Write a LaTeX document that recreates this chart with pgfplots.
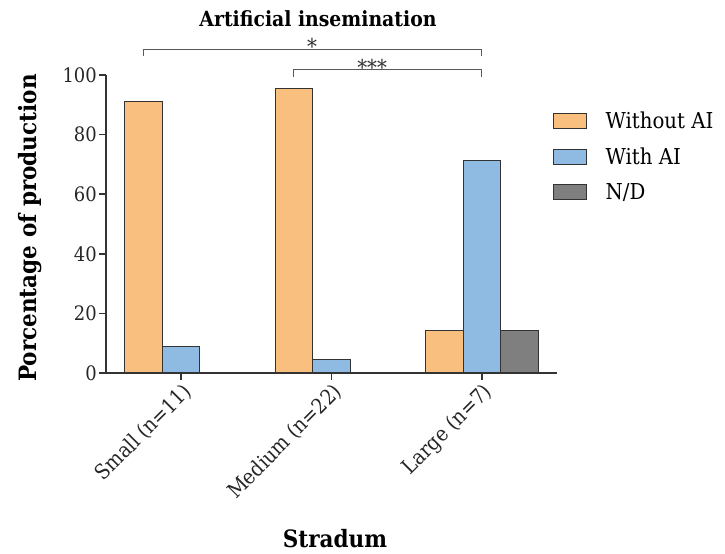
\documentclass[border=0pt]{standalone}
\usepackage{pgfplots}
\pgfplotsset{compat=1.18}
\usepackage{fontspec}
\setmainfont{DejaVu Serif Condensed}
\definecolor{cOr}{HTML}{F9BF7E}
\definecolor{cBl}{HTML}{8FBAE2}
\definecolor{cGr}{HTML}{7F7F7F}
\definecolor{cEd}{HTML}{333333}
\begin{document}
\begin{tikzpicture}[x=1bp,y=1bp]
\path[use as bounding box] (0,0) rectangle (725,554);
\begin{axis}[
  at={(106bp,181bp)}, anchor=south west,
  scale only axis, width=451bp, height=298bp,
  ybar=0pt, bar width=37.5bp,
  xmin=-0.5, xmax=2.5, ymin=0, ymax=100,
  axis x line*=bottom, axis y line*=left,
  axis line style={line width=2bp, color=cEd, -},
  xtick={0,1,2}, xticklabels={Small\hspace{5bp}(n=11), Medium (n=22), Large\hspace{6bp}(n=7)},
  ytick={0,20,40,60,80,100},
  tick style={line width=1.6bp, color=cEd},
  major tick length=7bp,
  tick align=outside,
  /pgf/number format/assume math mode=true,
  ticklabel style={font=\fontsize{20}{22}\selectfont, color=black!85},
  yticklabel style={inner sep=2bp},
  xticklabel style={rotate=45, anchor=north east, inner sep=1bp, font=\fontsize{21}{22}\selectfont},
  clip=false,
  legend style={at={(0.99,0.885)}, anchor=north west, draw=none, fill=none,
    font=\fontsize{22}{24}\selectfont, row sep=14bp, inner sep=0pt,
    /tikz/every even column/.append style={column sep=0pt}},
  legend cell align=left,
  every axis plot post/.append style={legend image code/.code={\draw[##1, draw=cEd, line width=1bp] (0bp,-7.5bp) rectangle (33bp,7.5bp);}},
]
\addplot[fill=cOr, draw=cEd, line width=1.1bp] coordinates {(0,91) (1,95.5) (2,14.3)};
\addplot[fill=cBl, draw=cEd, line width=1.1bp] coordinates {(0,9) (1,4.5) (2,71.4)};
\addplot[fill=cGr, draw=cEd, line width=1.1bp] coordinates {(2,14.3)};
\legend{\hspace{17bp}Without AI, \hspace{17bp}With AI, \hspace{17bp}N/D}
\draw[line width=1bp, color=black!65] (axis cs:-0.25,106.5) -- (axis cs:-0.25,108.6) -- (axis cs:2,108.6) -- (axis cs:2,106.5);
\draw[line width=1bp, color=black!65] (axis cs:0.75,99.4) -- (axis cs:0.75,101.7) -- (axis cs:2,101.7) -- (axis cs:2,99.4);
\node[anchor=base, font=\fontsize{22}{22}\selectfont, inner sep=0pt, color=black!80] at (axis cs:0.87,106.8) {*};
\node[anchor=base, font=\fontsize{22}{22}\selectfont, inner sep=0pt, color=black!80] at (axis cs:1.27,99.9) {***};
\end{axis}
\node[font=\bfseries\fontsize{21}{24}\selectfont, anchor=base] at (318,554-27) {Artificial insemination};
\node[font=\bfseries\fontsize{24}{26}\selectfont, rotate=90] at (30,554-228) {Porcentage of production};
\node[font=\bfseries\fontsize{24}{26}\selectfont, anchor=base] at (335,554-548) {Stradum};
\end{tikzpicture}
\end{document}
